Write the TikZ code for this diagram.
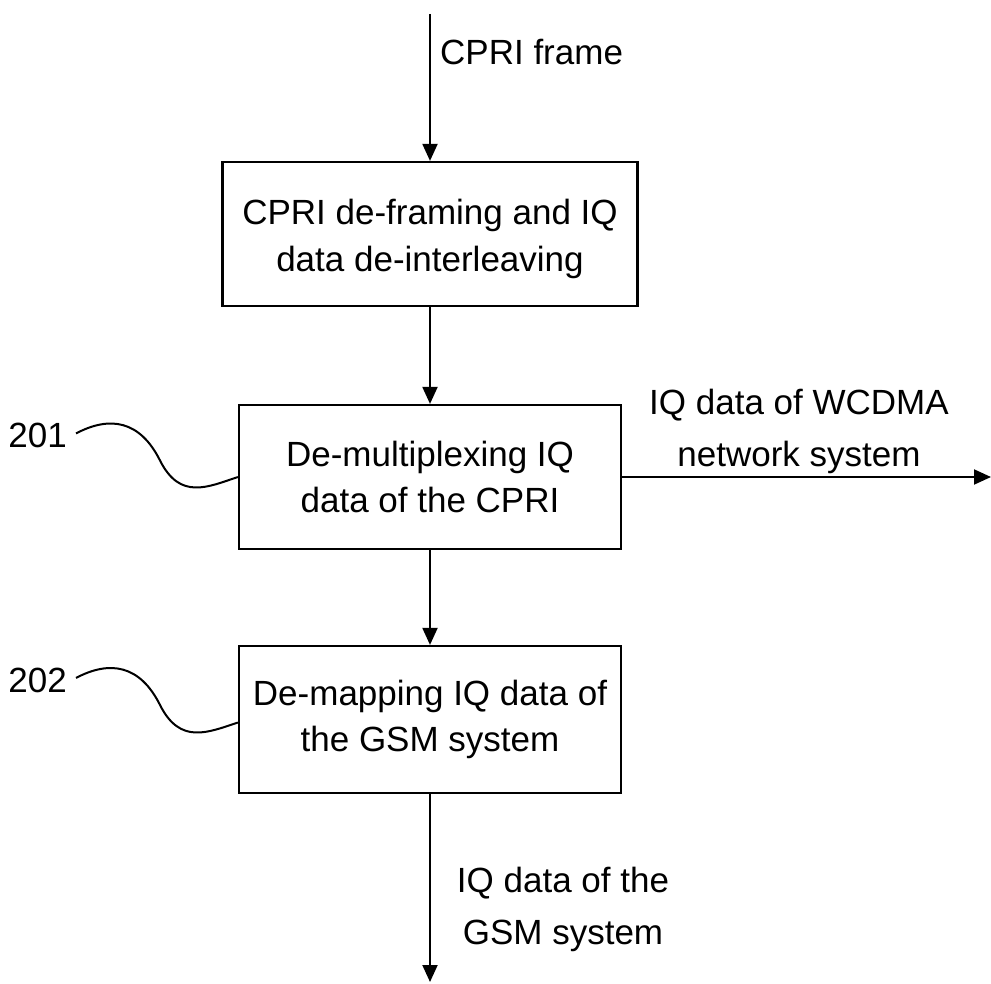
\documentclass[tikz,border=0pt]{standalone}
\usepackage{fontspec}
\setmainfont{Liberation Sans}
\usetikzlibrary{arrows.meta}
\begin{document}
\begin{tikzpicture}[x=1pt,y=-1pt,
  every node/.style={font=\fontsize{35}{46}\selectfont},
  blk/.style={draw, line width=2.2pt, align=center, inner sep=0pt},
  arr/.style={-{Triangle[length=17pt,width=15pt]}, line width=2pt},
  lbl/.style={align=center, font=\fontsize{35}{52}\selectfont},
  wavy/.style={line width=2pt}]
\useasboundingbox (0,0) rectangle (991,984);
% boxes
\node[blk, minimum width=415pt, minimum height=144pt] (b1) at (430,234) {\rule{0pt}{36pt}CPRI de-framing and IQ\\[1pt]data de-interleaving};
\node[blk, minimum width=382pt, minimum height=144pt] (b2) at (430,477) {De-multiplexing IQ\\data of the CPRI};
\node[blk, minimum width=382pt, minimum height=147pt] (b3) at (430,719.5) {De-mapping IQ data of\\the GSM system};
% free ends
\coordinate (top) at (430,14);
\coordinate (rend) at (991,477);
\coordinate (bend) at (430,982);
% connectors
\draw[arr] (top) -- (b1);
\draw[arr] (b1) -- (b2);
\draw[arr] (b2) -- (b3);
\draw[arr] (b2.east) -- (rend);
\draw[arr] (b3) -- (bend);
% labels
\node[anchor=base west, inner sep=0pt] (lcpri) at (440,65) {CPRI frame};
\node[lbl] (lw) at (799,431) {IQ data of WCDMA\\network system};
\node[lbl] (lg) at (563,909) {IQ data of the\\GSM system};
\node[anchor=base east, inner sep=0pt] (n201) at (67,447.5) {201};
\node[anchor=base east, inner sep=0pt] (n202) at (67,692) {202};
% reference curves
\draw[wavy] ([shift={(9,-2)}]n201.east) .. controls +(34,-18) and +(-20,-40) .. ++(84,27) .. controls +(20,40) and +(-30,10) .. (b2.west);
\draw[wavy] ([shift={(9,-2)}]n202.east) .. controls +(34,-18) and +(-20,-40) .. ++(84,27) .. controls +(20,40) and +(-30,10) .. ([yshift=-3]b3.west);
\end{tikzpicture}
\end{document}
